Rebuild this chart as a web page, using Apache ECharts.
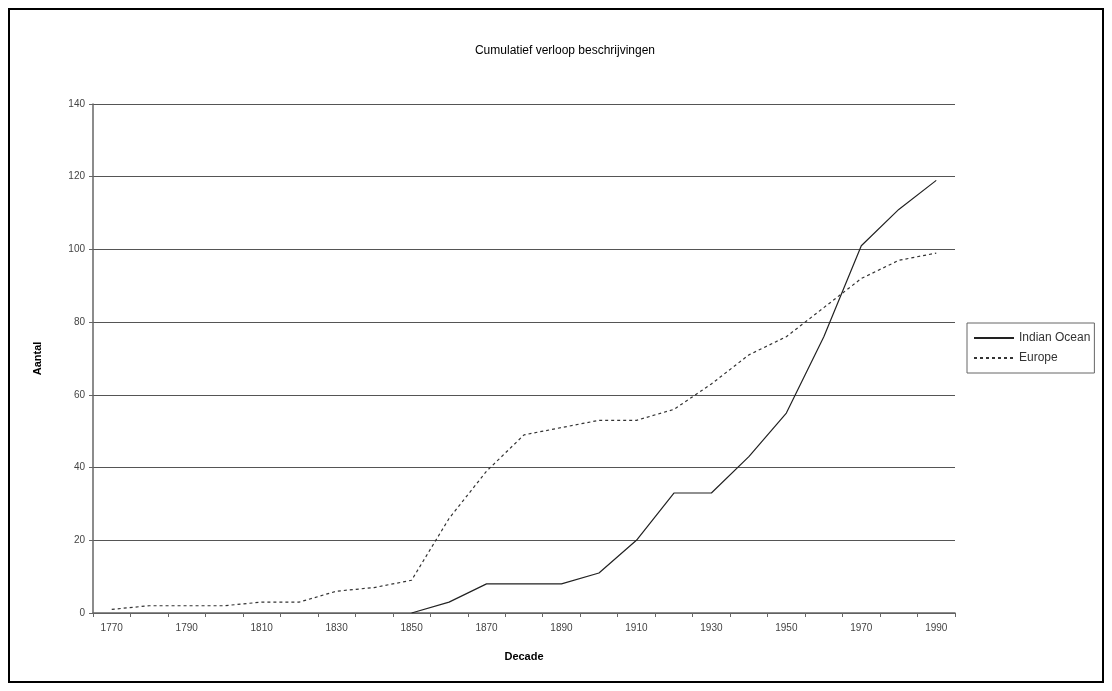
<!DOCTYPE html>
<html>
<head>
<meta charset="utf-8">
<script src="https://cdn.jsdelivr.net/npm/echarts@6/dist/echarts.min.js"></script>
<style>
html,body{margin:0;padding:0;background:#fff;}
#frame{position:absolute;left:8px;top:8px;width:1096px;height:675px;border:2px solid #000;box-sizing:border-box;}
#chart{position:absolute;left:0;top:0;width:1112px;height:691px;}
</style>
</head>
<body>
<div id="frame"></div>
<div id="chart"></div>
<script>
const decades = ['1770','1780','1790','1800','1810','1820','1830','1840','1850','1860','1870','1880','1890','1900','1910','1920','1930','1940','1950','1960','1970','1980','1990'];
const indianOcean = [null,null,null,null,null,null,null,null,0,3,8,8,8,11,20,33,33,43,55,76,101,111,119];
const europe = [1,2,2,2,3,3,6,7,9,26,39,49,51,53,53,56,63,71,76,84,92,97,99];
const yTicks = [0,20,40,60,80,100,120,140];

const chart = echarts.init(document.getElementById('chart'));
const font = 'Liberation Sans, Arial, sans-serif';
chart.setOption({
  animation: false,
  title: {
    text: 'Cumulatief verloop beschrijvingen',
    left: 560, top: 40, textAlign: 'center',
    textStyle: {fontFamily: font, fontSize: 12, fontWeight: 'normal', color: '#000'}
  },
  legend: {
    left: 967, top: 323, orient: 'vertical',
    itemWidth: 40, itemHeight: 10, itemGap: 8,
    padding: [9, 4, 9, 6],
    borderColor: '#666', borderWidth: 1,
    itemStyle: {opacity: 0},
    textStyle: {fontFamily: font, fontSize: 12, color: '#333'},
    data: ['Indian Ocean', 'Europe']
  },
  grid: {left: 93, right: 157, top: 104, bottom: 78, containLabel: false},
  xAxis: {
    type: 'category', data: decades, boundaryGap: true,
    name: 'Decade', nameLocation: 'middle', nameGap: 38,
    nameTextStyle: {fontFamily: font, fontSize: 11, fontWeight: 'bold', color: '#000'},
    axisLine: {lineStyle: {color: '#666', width: 1.5}},
    axisTick: {show: true, interval: 0, length: 4, lineStyle: {color: '#666'}},
    axisLabel: {interval: 1, fontFamily: font, fontSize: 10, color: '#444', margin: 10}
  },
  yAxis: {
    type: 'value', min: yTicks[0], max: yTicks[yTicks.length-1], interval: 20,
    name: 'Aantal', nameLocation: 'middle', nameGap: 50, nameRotate: 90,
    nameTextStyle: {fontFamily: font, fontSize: 11, fontWeight: 'bold', color: '#000'},
    axisLine: {show: true, lineStyle: {color: '#666', width: 1.5}},
    axisTick: {show: true, length: 4, lineStyle: {color: '#666'}},
    axisLabel: {fontFamily: font, fontSize: 10, color: '#444', margin: 8},
    splitLine: {show: true, lineStyle: {color: '#555', width: 1}}
  },
  series: [
    {
      name: 'Indian Ocean', type: 'line', data: indianOcean, symbol: 'none',
      connectNulls: false,
      lineStyle: {color: '#222', width: 1.2, type: 'solid'},
      itemStyle: {color: '#222'}
    },
    {
      name: 'Europe', type: 'line', data: europe, symbol: 'none',
      lineStyle: {color: '#333', width: 1.2, type: [3, 3]},
      itemStyle: {color: '#333'}
    }
  ]
});
</script>
</body>
</html>
